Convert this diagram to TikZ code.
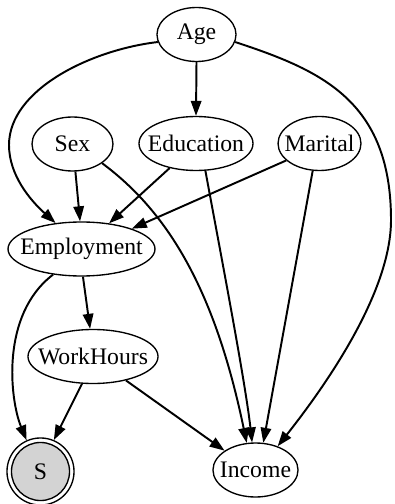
\documentclass[tikz,border=0pt]{standalone}
\usepackage{fontspec}
\setmainfont{Liberation Serif}
\usetikzlibrary{arrows.meta,shapes.geometric}
\definecolor{selfill}{RGB}{211,211,211}
% label boxed at zero width so the ellipse keeps its given size
\newcommand\nodetext[1]{\makebox[0pt]{#1}}
\begin{document}
\begin{tikzpicture}[x=0.6667pt,y=-0.6667pt,
  var/.style={ellipse,draw,line width=0.9pt,inner sep=0pt,minimum height=36pt,
    font=\fontsize{15.8}{18}\selectfont},
  link/.style={line width=1.3pt,-{Triangle[length=10pt,width=7pt]}},
]
\useasboundingbox (0,0) rectangle (394,504);

% variables
\node[var,minimum width=52.7pt] (age) at (196.5,34.5) {\nodetext{Age}};
\node[var,minimum width=54pt]   (sex) at (72.5,144)   {\nodetext{Sex}};
\node[var,minimum width=76pt]   (edu) at (196,143.5)  {\nodetext{Education}};
\node[var,minimum width=55.3pt] (mar) at (319.5,143.5) {\nodetext{Marital}};
\node[var,minimum width=98pt]   (emp) at (81.5,249)   {\nodetext{Employment}};
\node[var,minimum width=86.7pt] (wh)  at (93,356.5)   {\nodetext{WorkHours}};
\node[var,minimum width=56.7pt] (inc) at (255.5,470)  {\nodetext{Income}};

% selection node: double circle
\node[circle,draw,line width=0.9pt,minimum size=44.7pt,inner sep=0pt] (s) at (40.5,471.5) {};
\node[circle,draw,line width=0.9pt,fill=selfill,minimum size=38.7pt,inner sep=0pt,
  font=\fontsize{15.8}{18}\selectfont] (sin) at (s.center) {S};

% edges
\draw[link] (age.-90) -- (edu.90);
\draw[link] (age.191) .. controls (90,50) and (9,90) .. (9,145)
                      .. controls (9,175) and (30,200) .. (emp.135);
\draw[link] (age.-11) .. controls (320,70) and (391,100) .. (391,220)
                      .. controls (391,290) and (330,380) .. (inc.47);
\draw[link] (sex.-84) -- (emp.93);
\draw[link] (sex.-33) .. controls (168,212) and (215,290) .. (inc.108);
\draw[link] (edu.223) -- (emp.43);
\draw[link] (edu.-71) .. controls (220,250) and (245,380) .. (inc.97);
\draw[link] (mar.207) -- (emp.22);
\draw[link] (mar.-104) -- (inc.74);
\draw[link] (emp.-87) -- (wh.96);
\draw[link] (emp.222) .. controls (0,315) and (10,400) .. (s.114);
\draw[link] (wh.-112) -- (s.67);
\draw[link] (wh.-36) -- (inc.148);
\end{tikzpicture}
\end{document}
